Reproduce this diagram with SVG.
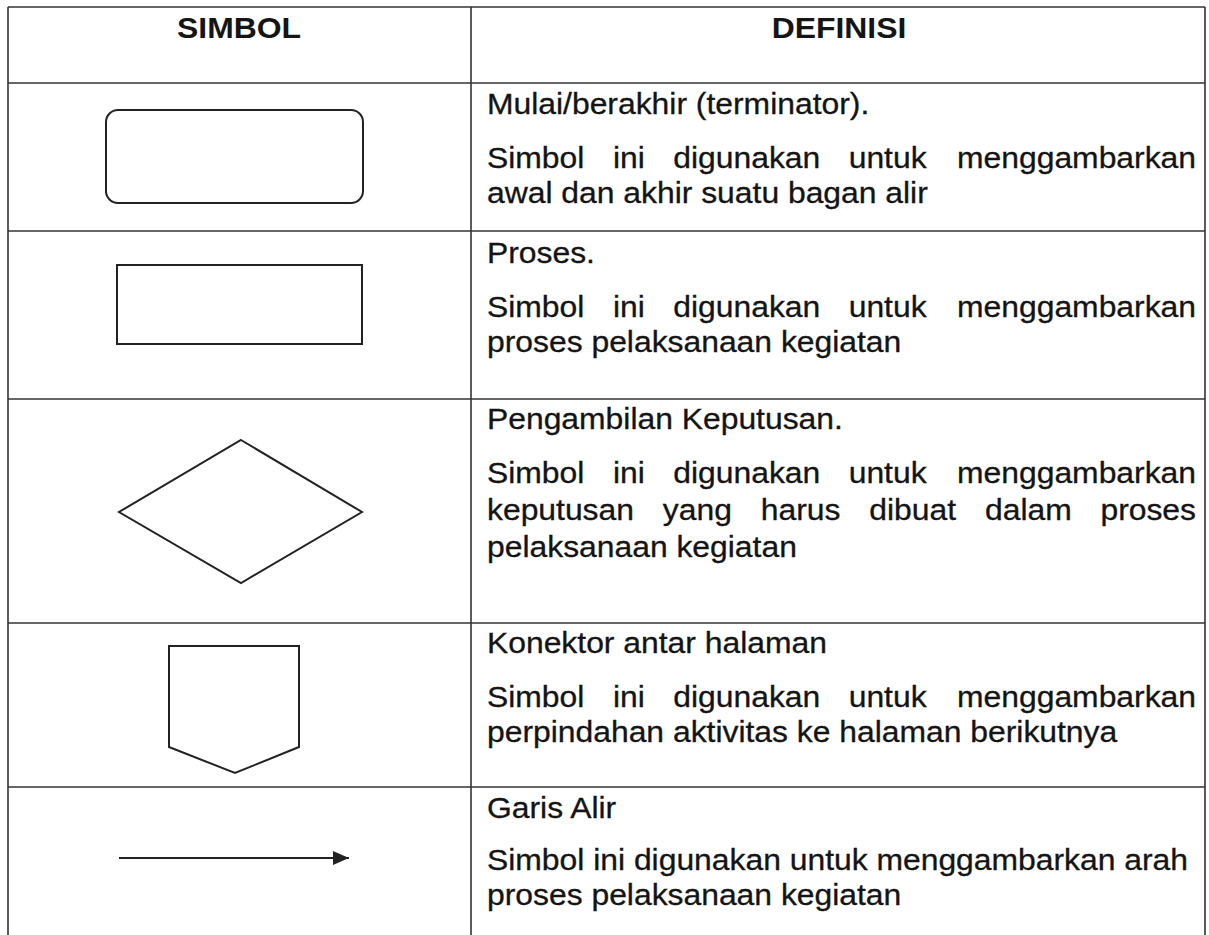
<svg xmlns="http://www.w3.org/2000/svg" width="1209" height="935" viewBox="0 0 1209 935">
  <style>
    .grid { stroke: #333; stroke-width: 1.6; fill: none; }
    .shape { stroke: #222; stroke-width: 2; fill: #fff; }
    .hdr { font-family: "Liberation Sans", Arial, sans-serif; font-weight: bold; font-size: 29px; fill: #151515; }
    .txt { font-family: "Liberation Sans", Arial, sans-serif; font-size: 29.5px; fill: #141414; stroke: #141414; stroke-width: 0.3; }
  </style>
  <defs>
    <marker id="arrowhead" markerWidth="16" markerHeight="14" refX="16" refY="7" orient="auto" markerUnits="userSpaceOnUse">
      <polygon points="0,0 16,7 0,14" fill="#222"/>
    </marker>
  </defs>
  <rect width="1209" height="935" fill="#fff"/>

  <g id="table">
    <line class="grid" x1="8" y1="7" x2="1205" y2="7"/>
    <line class="grid" x1="8" y1="83" x2="1205" y2="83"/>
    <line class="grid" x1="8" y1="231" x2="1205" y2="231"/>
    <line class="grid" x1="8" y1="399" x2="1205" y2="399"/>
    <line class="grid" x1="8" y1="623" x2="1205" y2="623"/>
    <line class="grid" x1="8" y1="787" x2="1205" y2="787"/>
    <line class="grid" x1="8" y1="7" x2="8" y2="935"/>
    <line class="grid" x1="471" y1="7" x2="471" y2="935"/>
    <line class="grid" x1="1205" y1="7" x2="1205" y2="935"/>
  </g>

  <g id="headers">
    <text class="hdr" text-anchor="middle" transform="translate(239 38) scale(1.1 1)">SIMBOL</text>
    <text class="hdr" text-anchor="middle" transform="translate(839 38) scale(1.1 1)">DEFINISI</text>
  </g>

  <g id="node-terminator">
    <rect class="shape" x="106" y="110" width="257" height="93" rx="12" ry="12"/>
  </g>
  <g id="node-process">
    <rect class="shape" x="117" y="265" width="245" height="79"/>
  </g>
  <g id="node-decision">
    <polygon class="shape" points="241,440 362,512 241,583 119,512"/>
  </g>
  <g id="node-offpage">
    <polygon class="shape" points="169,646 299,646 299,747 235,773 169,747"/>
  </g>
  <g id="connectors">
    <line x1="119" y1="858" x2="349" y2="858" stroke="#222" stroke-width="2" marker-end="url(#arrowhead)"/>
  </g>

  <g id="definitions" transform="translate(487 0) scale(1.08 1)">
    <g id="def-terminator">
      <text class="txt" x="0" y="114">Mulai/berakhir (terminator).</text>
      <text class="txt" y="168"><tspan x="0">Simbol</tspan><tspan x="116.6">ini</tspan><tspan x="172.5">digunakan</tspan><tspan x="334.9">untuk</tspan><tspan x="656.5" text-anchor="end">menggambarkan</tspan></text>
      <text class="txt" x="0" y="203">awal dan akhir suatu bagan alir</text>
    </g>
    <g id="def-process">
      <text class="txt" x="0" y="263">Proses.</text>
      <text class="txt" y="317"><tspan x="0">Simbol</tspan><tspan x="116.6">ini</tspan><tspan x="172.5">digunakan</tspan><tspan x="334.9">untuk</tspan><tspan x="656.5" text-anchor="end">menggambarkan</tspan></text>
      <text class="txt" x="0" y="352">proses pelaksanaan kegiatan</text>
    </g>
    <g id="def-decision">
      <text class="txt" x="0" y="429">Pengambilan Keputusan.</text>
      <text class="txt" y="483"><tspan x="0">Simbol</tspan><tspan x="116.6">ini</tspan><tspan x="172.5">digunakan</tspan><tspan x="334.9">untuk</tspan><tspan x="656.5" text-anchor="end">menggambarkan</tspan></text>
      <text class="txt" y="520"><tspan x="0">keputusan</tspan><tspan x="162.8">yang</tspan><tspan x="253.5">harus</tspan><tspan x="354">dibuat</tspan><tspan x="461.1">dalam</tspan><tspan x="656.5" text-anchor="end">proses</tspan></text>
      <text class="txt" x="0" y="557">pelaksanaan kegiatan</text>
    </g>
    <g id="def-offpage">
      <text class="txt" x="0" y="653">Konektor antar halaman</text>
      <text class="txt" y="707"><tspan x="0">Simbol</tspan><tspan x="116.6">ini</tspan><tspan x="172.5">digunakan</tspan><tspan x="334.9">untuk</tspan><tspan x="656.5" text-anchor="end">menggambarkan</tspan></text>
      <text class="txt" x="0" y="742">perpindahan aktivitas ke halaman berikutnya</text>
    </g>
    <g id="def-flow">
      <text class="txt" x="0" y="818">Garis Alir</text>
      <text class="txt" x="0" y="870">Simbol ini digunakan untuk menggambarkan arah</text>
      <text class="txt" x="0" y="905">proses pelaksanaan kegiatan</text>
    </g>
  </g>
</svg>
